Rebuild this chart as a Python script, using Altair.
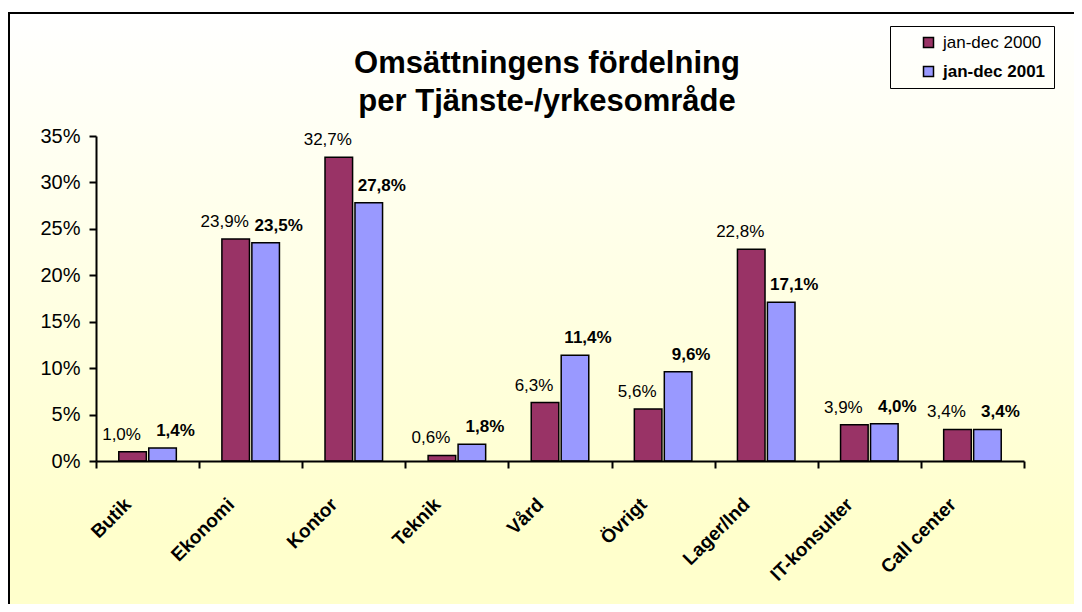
import altair as alt
import pandas as pd

categories = ["Butik", "Ekonomi", "Kontor", "Teknik", "Vård", "Övrigt",
              "Lager/Ind", "IT-konsulter", "Call center"]
values_2000 = [1.0, 23.9, 32.7, 0.6, 6.3, 5.6, 22.8, 3.9, 3.4]
values_2001 = [1.4, 23.5, 27.8, 1.8, 11.4, 9.6, 17.1, 4.0, 3.4]
series = ["jan-dec 2000", "jan-dec 2001"]
series_colors = ["#993366", "#9999FF"]
y_ticks = [0, 5, 10, 15, 20, 25, 30, 35]
title_lines = ["Omsättningens fördelning", "per Tjänste-/yrkesområde"]

rows = []
for s, vals in zip(series, [values_2000, values_2001]):
    for c, v in zip(categories, vals):
        rows.append({"kategori": c, "period": s, "andel": v,
                     "etikett": f"{v:.1f}%".replace(".", ",")})
df = pd.DataFrame(rows)

W, H = 928, 325
FONT = "Liberation Sans"

x_enc = alt.X(
    "kategori:N", sort=categories, title=None,
    scale=alt.Scale(paddingInner=0, paddingOuter=0),
    axis=alt.Axis(
        zindex=1,
        tickBand="extent", tickSize=7, tickWidth=2, tickColor="black",
        domainColor="black", domainWidth=2,
        labelAngle=-45, labelAlign="right", labelBaseline="middle",
        labelFont=FONT, labelFontSize=19, labelFontWeight="bold",
        labelColor="black", labelOffset=-20, labelPadding=33,
        labelOverlap=False, labelLimit=300,
    ),
)
xoff_enc = alt.XOffset(
    "period:N", sort=series,
    scale=alt.Scale(paddingInner=0.08, paddingOuter=0.76),
)
y_enc = alt.Y(
    "andel:Q", title=None,
    scale=alt.Scale(domain=[0, 35], nice=False, zero=True),
    axis=alt.Axis(
        zindex=1,
        values=y_ticks, labelExpr="datum.value + '%'",
        tickSize=7, tickWidth=2, tickColor="black",
        domainColor="black", domainWidth=2,
        labelFont=FONT, labelFontSize=20, labelColor="black",
        labelPadding=9, grid=False,
    ),
)

nbsp = "\u00a0" * 5
color_enc = alt.Color(
    "period:N", sort=series,
    scale=alt.Scale(domain=series, range=series_colors),
    legend=alt.Legend(
        title=None, orient="none", legendX=794, legendY=-110,
        strokeColor="black", padding=8, zindex=1,
        symbolType="square", symbolSize=100, symbolOffset=22,
        symbolStrokeColor="black", symbolStrokeWidth=1.5,
        labelFont=FONT, labelFontSize=17, labelColor="black",
        labelOffset=6, rowPadding=11,
        labelExpr="datum.label + '" + nbsp + "'",
        labelFontWeight=alt.ExprRef(
            "datum.value == 'jan-dec 2001' ? 'bold' : 'normal'"),
    ),
)

gradient = alt.Gradient(
    gradient="linear",
    stops=[alt.GradientStop(color="#FFFFFF", offset=0),
           alt.GradientStop(color="#FFFFCC", offset=0.8)],
    x1=0, x2=0, y1=0, y2=1,
)

bg = alt.Chart(pd.DataFrame({"bakgrund": [0]})).mark_rect(
    fill=gradient, stroke="black", strokeWidth=2
).encode(
    x=alt.value(-87), x2=alt.value(W + 80),
    y=alt.value(-123), y2=alt.value(H + 200),
)

bars = alt.Chart(df).mark_bar(stroke="black", strokeWidth=1.5).encode(
    x=x_enc, xOffset=xoff_enc, y=y_enc, color=color_enc,
)

text_2000 = alt.Chart(df).transform_filter(
    alt.datum.period == series[0]
).mark_text(
    font=FONT, fontSize=17, fontWeight="normal", color="black",
    baseline="alphabetic", dy=-12, dx=-11,
).encode(x=x_enc, xOffset=xoff_enc, y=y_enc, text="etikett:N")

text_2001 = alt.Chart(df).transform_filter(
    alt.datum.period == series[1]
).mark_text(
    font=FONT, fontSize=17, fontWeight="bold", color="black",
    baseline="alphabetic", dy=-12, dx=13,
).encode(x=x_enc, xOffset=xoff_enc, y=y_enc, text="etikett:N")

chart = alt.layer(bg, bars, text_2000, text_2001).properties(
    width=W, height=H,
    title=alt.TitleParams(
        text=title_lines, font=FONT, fontSize=31, fontWeight="bold",
        color="black", anchor="middle", dx=-13, lineHeight=38, offset=0,
        dy=106, zindex=1,
    ),
    autosize=alt.AutoSizeParams(type="none"),
    padding={"left": 88, "top": 128, "right": 50, "bottom": 143},
).configure_view(stroke=None).configure(background="#FFFFFF")

chart.save("out.html", embed_options={"renderer": "svg", "actions": False})
